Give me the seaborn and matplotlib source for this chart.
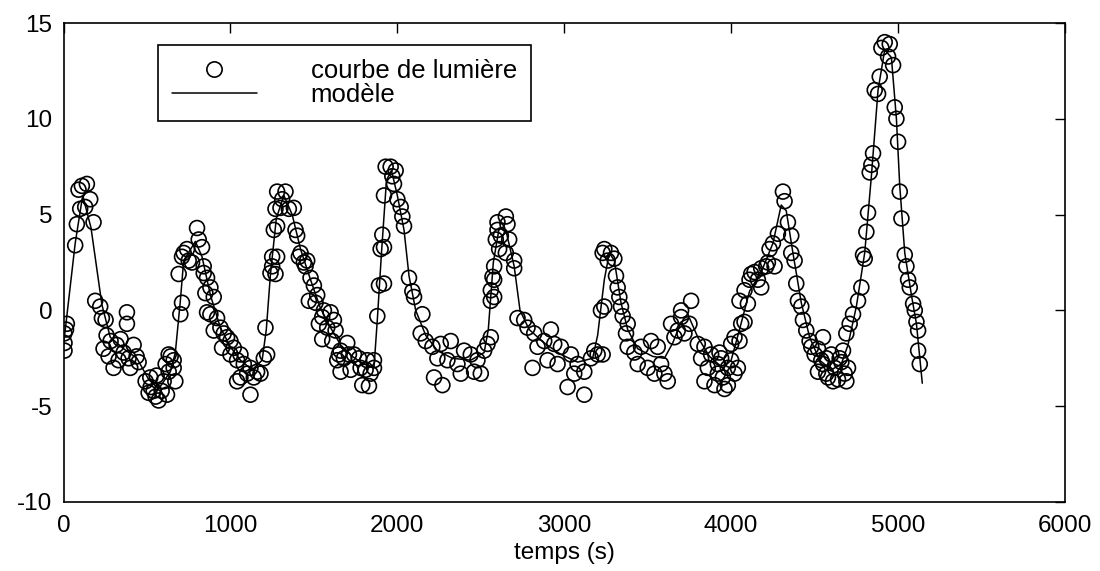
import matplotlib
matplotlib.use("Agg")
import matplotlib.pyplot as plt
import seaborn as sns
import pandas as pd
from matplotlib.lines import Line2D

# ---- observed light curve (time in s, value) ----
obs_t = [5, 6, 6, 15, 20, 70, 80, 90, 100, 110, 130, 140, 160, 180, 190, 220, 230, 240, 252, 258,
         270, 282, 300, 318, 330, 342, 360, 380, 380, 390, 400, 420, 438, 450, 492, 510, 520, 522, 540, 552,
         558, 570, 588, 600, 612, 620, 630, 630, 642, 660, 660, 670,
         690, 700, 710, 710, 720, 740, 750, 770, 800, 810, 830, 840, 840, 850, 860, 860, 880, 880,
         900, 900, 920, 940, 950, 960, 980, 1000, 1000, 1020, 1040, 1040, 1060, 1060, 1080, 1100, 1120, 1120,
         1140, 1160, 1180, 1200, 1210, 1220, 1240, 1250, 1250, 1260, 1270, 1270, 1280, 1280, 1280,
         1300, 1310, 1330, 1350, 1380, 1390, 1400, 1410, 1420, 1440, 1450, 1460, 1470, 1480, 1500, 1510,
         1520, 1530, 1550, 1550, 1560, 1580, 1600, 1610, 1620, 1630, 1640, 1650, 1660, 1660, 1680, 1700,
         1710, 1720, 1740, 1770, 1780, 1790, 1810, 1820, 1830, 1840, 1860, 1860, 1880, 1890, 1900, 1910,
         1920, 1920, 1920, 1930,
         1960, 1970, 1980, 1990, 2000, 2020, 2030, 2040, 2070, 2090, 2100, 2140, 2150, 2170, 2210, 2220,
         2240, 2260, 2270, 2300, 2320, 2360, 2380, 2400, 2440, 2460, 2480, 2500, 2520, 2540, 2560, 2560,
         2560, 2570, 2580, 2580, 2580, 2590, 2600, 2600, 2610, 2620, 2650, 2650, 2660, 2670, 2700, 2700,
         2720, 2760, 2780, 2810, 2820, 2840, 2880, 2900, 2920, 2940, 2960, 2980, 3020, 3040, 3060, 3080,
         3120, 3120, 3160, 3180, 3200, 3220, 3230, 3230, 3240, 3240, 3260, 3280, 3300, 3310, 3320, 3330,
         3340, 3350, 3370, 3380, 3380, 3420, 3440, 3460, 3500, 3520, 3540, 3560, 3580, 3600, 3620,
         3640, 3660, 3680, 3700, 3700, 3720, 3750, 3760, 3800, 3820, 3840, 3840, 3860, 3880, 3900, 3920,
         3920, 3930, 3940, 3950, 3960, 3980, 3980, 4000, 4000, 4020, 4020, 4040, 4050,
         4060, 4080, 4050, 4080, 4100, 4110, 4120, 4140, 4160, 4180, 4180, 4210, 4220, 4230, 4250, 4260,
         4280, 4310, 4320, 4340, 4360, 4360, 4380, 4390, 4400, 4420, 4430, 4450, 4470, 4480, 4500, 4520,
         4520, 4540, 4550, 4550, 4570, 4570, 4580, 4600, 4610, 4620, 4640, 4650, 4660, 4670, 4680, 4690,
         4690, 4700, 4710, 4730, 4760, 4780, 4790, 4800, 4810, 4820, 4830, 4840, 4850, 4860, 4880, 4890,
         4900, 4920, 4940, 4950, 4970, 4980, 4990, 5000, 5010, 5020, 5040, 5050, 5060, 5070, 5090, 5100,
         5110, 5120, 5120, 5130]
obs_v = [-1.2, -1.7, -2.1, -1.0, -0.7, 3.4, 4.5, 6.3, 5.3, 6.5, 5.4, 6.6, 5.8, 4.6, 0.5, 0.2, -0.4, -2.0, -0.5, -1.3,
         -2.4, -1.6, -3.0, -1.8, -2.6, -1.5, -2.2, -0.1, -0.7, -2.5, -3.0, -1.8, -2.4, -2.7, -3.7, -4.3, -3.5, -4.0, -4.2, -4.5,
         -3.4, -4.7, -4.2, -3.7, -2.8, -4.4, -3.2, -2.3, -2.4, -2.6, -3.0, -3.7,
         1.9, -0.2, 0.4, 2.8, 3.0, 3.2, 2.6, 2.5, 4.3, 3.7, 3.3, 1.95, 2.3, 0.9, 1.7, -0.1, -0.2, 1.2,
         0.7, -1.05, -0.4, -0.9, -1.95, -1.2, -1.4, -1.6, -2.3, -1.95, -2.6, -3.7, -3.5, -2.3, -2.8, -3.3, -3.0, -4.4,
         -3.5, -3.2, -3.3, -2.5, -0.9, -2.3, 1.95, 2.3, 2.8, 4.2, 5.3, 1.9, 6.2, 4.4, 2.8,
         5.35, 5.8, 6.2, 5.3, 5.35, 4.2, 3.9, 2.8, 3.0, 2.5, 2.3, 2.6, 0.5, 1.7, 1.3, 0.4,
         0.8, -0.7, -1.5, -0.35, 0.0, -0.9, -0.1, -1.6, -0.5, -1.05, -2.6, -2.3, -2.1, -3.2, -2.5, -1.7,
         -2.3, -3.1, -2.3, -2.5, -3.0, -3.9, -3.1, -2.6, -3.95, -3.3, -3.0, -2.6, -0.3, 1.3, 3.2, 3.95,
         6.0, 3.3, 1.4, 7.5,
         7.5, 7.0, 6.6, 7.3, 5.8, 5.4, 4.9, 4.4, 1.7, 1.0, 0.7, -1.2, -0.2, -1.6, -1.9, -3.5,
         -2.5, -1.75, -3.9, -2.6, -1.6, -2.8, -3.3, -2.1, -2.3, -3.2, -2.6, -3.3, -2.1, -1.75, -1.4, 0.5,
         1.05, 1.75, 2.3, 1.6, 0.7, 3.7, 4.2, 4.6, 3.2, 3.9, 4.9, 3.0, 4.5, 3.7, 2.6, 2.2,
         -0.4, -0.5, -0.9, -3.0, -1.2, -1.9, -1.6, -2.6, -1.0, -1.75, -2.8, -1.9, -4.0, -2.3, -3.3, -2.8,
         -3.2, -4.4, -2.5, -2.1, -2.3, 0.0, 3.0, -2.3, 3.2, 0.2, 2.6, 3.0, 2.7, 1.8, 1.2, 0.7,
         0.2, -0.3, -1.2, -0.7, -1.9, -2.2, -2.8, -1.9, -3.0, -1.6, -3.3, -1.9, -2.8, -3.3, -3.7,
         -0.7, -1.4, -1.05, 0.0, -0.35, -1.2, -0.7, 0.5, -1.75, -2.5, -1.9, -3.7, -3.0, -2.3, -3.9, -2.8,
         -3.3, -2.2, -2.5, -3.5, -4.1, -3.0, -3.9, -1.75, -2.6, -1.4, -3.3, -3.0, -1.6,
         -0.7, -0.6, 0.5, 1.05, 0.35, 1.6, 1.9, 2.0, 1.6, 1.2, 2.2, 2.3, 2.5, 3.2, 3.5, 2.3,
         4.0, 6.2, 5.7, 4.6, 3.9, 3.0, 2.6, 1.4, 0.5, 0.2, -0.5, -1.05, -1.6, -1.9, -2.3, -3.2,
         -2.0, -2.6, -1.4, -2.8, -3.3, -2.5, -3.5, -2.3, -3.7, -3.0, -3.6, -2.5, -2.7, -2.1, -3.3, -1.2,
         -3.7, -3.0, -0.7, -0.2, 0.5, 1.2, 2.9, 2.7, 4.1, 5.1, 7.2, 7.6, 8.2, 11.5, 11.3, 12.2,
         13.7, 14.0, 13.25, 13.9, 12.8, 10.6, 10.0, 8.8, 6.2, 4.8, 2.9, 2.3, 1.6, 1.2, 0.35, 0.0,
         -0.6, -1.05, -2.1, -2.8]

# ---- model curve ----
mod_t = [0, 12, 70, 115, 165, 230, 280, 360, 440, 510, 570, 640, 670, 700, 720, 790, 830, 880, 940, 1000,
         1060, 1130, 1190, 1215, 1240, 1275, 1320, 1370, 1420, 1480, 1540, 1600, 1660, 1730, 1800, 1860,
         1880, 1905, 1935, 1965, 2000, 2040, 2070, 2110, 2170, 2240, 2330, 2440, 2520, 2545, 2575, 2610,
         2650, 2700, 2735, 2790, 2880, 2980, 3080, 3170, 3200, 3240, 3270, 3300, 3340, 3380, 3440, 3530,
         3600, 3650, 3700, 3750, 3800, 3870, 3950, 4000, 4050, 4110, 4180, 4250, 4300, 4330, 4370, 4420,
         4470, 4530, 4600, 4660, 4700, 4750, 4800, 4840, 4880, 4920, 4960, 4990, 5010, 5040, 5080, 5110, 5145]
mod_v = [-1.8, -0.9, 3.5, 6.0, 4.3, 0.3, -1.4, -2.0, -2.5, -3.6, -4.1, -3.2, -2.2, 0.5, 2.6, 3.6, 2.8, 0.8, -0.9, -1.9,
         -2.6, -3.1, -2.6, -1.0, 1.9, 4.8, 6.0, 5.0, 3.2, 1.6, 0.1, -0.9, -1.8, -2.4, -2.8, -3.0,
         -0.5, 3.0, 6.8, 7.3, 6.0, 4.2, 1.8, 0.0, -1.3, -2.1, -2.5, -2.6, -2.2, -1.0, 2.5, 4.3,
         4.2, 2.3, 0.0, -1.0, -1.7, -2.3, -2.7, -2.5, -1.3, 1.6, 3.0, 2.6, 0.4, -1.0, -2.0, -2.4,
         -2.5, -1.7, -0.6, -0.4, -1.4, -2.4, -3.0, -2.6, -1.0, 1.0, 2.0, 3.5, 5.5, 5.2, 3.0, 0.4,
         -1.4, -2.6, -3.1, -2.8, -1.8, 0.2, 3.0, 7.0, 11.5, 13.6, 13.2, 10.0, 6.5, 3.0, 0.8, -0.7, -3.8]

x_ticks = [0, 1000, 2000, 3000, 4000, 5000, 6000]
y_ticks = [-10, -5, 0, 5, 10, 15]
x_label = "temps (s)"
labels = ["courbe de lumière", "modèle"]

sns.set_theme(style="white")
plt.rcParams["font.family"] = ["Liberation Sans", "DejaVu Sans"]
plt.rcParams["axes.unicode_minus"] = False
plt.rcParams["text.color"] = "black"
plt.rcParams["axes.labelcolor"] = "black"
plt.rcParams["xtick.color"] = "black"
plt.rcParams["ytick.color"] = "black"

fig = plt.figure(figsize=(11, 5.71), dpi=100)
ax = fig.add_axes([63.5 / 1100, 1 - 502 / 571, (1065 - 63.5) / 1100, (502 - 23) / 571])

obs = pd.DataFrame({"t": obs_t, "v": obs_v})
mod = pd.DataFrame({"t": mod_t, "v": mod_v})

sns.lineplot(data=mod, x="t", y="v", ax=ax, color="black", linewidth=1.1,
             sort=False, estimator=None, zorder=2)
sns.scatterplot(data=obs, x="t", y="v", ax=ax, marker="o", s=115,
                facecolor="none", edgecolor="black", linewidth=1.2, zorder=3)
for c in ax.collections:
    c.set_facecolor("none")
    c.set_edgecolor("black")
    c.set_linewidth(1.2)

ax.set_xlim(0, 6000)
ax.set_ylim(-10, 15)
ax.set_xticks(x_ticks)
ax.set_yticks(y_ticks)
ax.set_xlabel(x_label, fontsize=17.5, labelpad=4, color="black")
ax.set_ylabel("")
ax.tick_params(axis="both", which="major", direction="in", length=7, width=1,
               labelsize=17.5, color="black", labelcolor="black",
               top=True, right=True)
ax.tick_params(axis="x", pad=9)
ax.tick_params(axis="y", pad=8)
for sp in ax.spines.values():
    sp.set_visible(True)
    sp.set_color("black")
    sp.set_linewidth(1.2)
ax.grid(False)

handles = [Line2D([], [], linestyle="none", marker="o", markersize=11,
                  markerfacecolor="none", markeredgecolor="black", markeredgewidth=1.2),
           Line2D([], [], color="black", linewidth=1.1)]
leg = ax.legend(handles, labels, loc="upper left", bbox_to_anchor=(0.094, 0.954),
                borderaxespad=0, fontsize=18.5, handlelength=3.3, handletextpad=2.1,
                labelspacing=0.0, borderpad=0.55, frameon=True, fancybox=False,
                framealpha=1, edgecolor="black")
leg.get_frame().set_linewidth(1.2)
for txt in leg.get_texts():
    txt.set_color("black")

fig.savefig("out.png", dpi=100)
